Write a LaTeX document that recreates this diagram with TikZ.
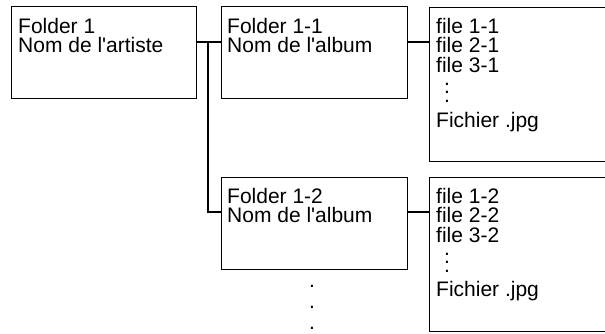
\documentclass[tikz,border=0pt]{standalone}
\usepackage{fontspec}
\setmainfont{Liberation Sans}[Ligatures=TeXOff]
\begin{document}
\begin{tikzpicture}[x=1pt,y=-1pt,
  box/.style={draw=black,line width=1.1pt,rectangle,inner sep=0pt},
  conn/.style={draw=black,line width=2pt},
  txt/.style={inner sep=0pt,anchor=base west,align=left,font={\fontsize{21}{19.5}\selectfont}},
  dotcol/.style={inner sep=0pt,anchor=base west,align=left,font={\fontsize{21}{8.5}\selectfont}},
  dotbig/.style={inner sep=0pt,anchor=base west,align=left,font={\fontsize{21}{21}\selectfont}}]
\useasboundingbox (0,0) rectangle (605,333);
\clip (0,0) rectangle (605,333);
% boxes
\node[box,minimum width=185pt,minimum height=92pt,anchor=north west] (b1) at (11,6) {};
\node[box,minimum width=186pt,minimum height=92pt,anchor=north west] (b11) at (220.5,6) {};
\node[box,minimum width=200pt,minimum height=154.5pt,anchor=north west] (f1) at (429,6.5) {};
\node[box,minimum width=186pt,minimum height=92pt,anchor=north west] (b12) at (220.5,176.5) {};
\node[box,minimum width=200pt,minimum height=154.5pt,anchor=north west] (f2) at (429,176.5) {};
% texts (anchored at the baseline of the last line)
\node[txt] (t1) at (18,52.5) {Folder 1\\Nom de l'artiste};
\node[txt] (t11) at (227,52.5) {Folder 1-1\\Nom de l'album};
\node[txt] (t12) at (227,222.5) {Folder 1-2\\Nom de l'album};
\node[txt] (tf1) at (436,72) {file 1-1\\file 2-1\\file 3-1};
\node[dotcol] (d1) at (444,102) {.\\.\\.};
\node[txt] (ff1) at (436,127) {Fichier .jpg};
\node[txt] (tf2) at (436,242) {file 1-2\\file 2-2\\file 3-2};
\node[dotcol] (d2) at (444,272) {.\\.\\.};
\node[txt] (ff2) at (436,296) {Fichier .jpg};
\node[dotbig] (dd) at (309,329) {.\\.\\.};
% connectors
\coordinate (j1) at (208,42);
\coordinate (j2) at (208,212);
\draw[conn] (b1.east |- j1) -- (b11.west |- j1);
\draw[conn] (j1) -- (j2) -- (b12.west |- j2);
\draw[conn] (b11.east |- j1) -- (f1.west |- j1);
\draw[conn] (b12.east |- j2) -- (f2.west |- j2);
\end{tikzpicture}
\end{document}
